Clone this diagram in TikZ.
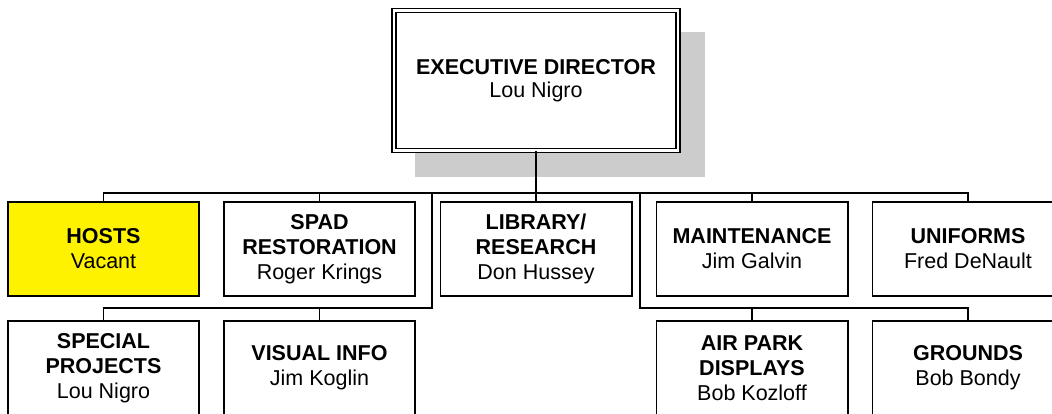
\documentclass[tikz,border=0pt]{standalone}
\usepackage{fontspec}
\setmainfont{Liberation Sans}
\usepackage{tikz}
\newcommand{\post}[2]{\textbf{#1}\\#2}

\tikzset{
  unit/.style={draw, line width=1.7pt, fill=white, minimum width=191.3pt,
    minimum height=94.3pt, align=center, inner sep=0pt,
    font=\fontsize{21.5}{25}\selectfont},
  chief/.style={draw, double, double distance=2.5pt, line width=1.3pt,
    fill=white, minimum width=284pt, minimum height=140pt, align=center,
    inner sep=0pt, font=\fontsize{21.5}{23.5}\selectfont},
  link/.style={line width=1.8pt}
}

\begin{document}
\begin{tikzpicture}[x=1pt, y=-1pt]
  % \draw[help lines] (0,0) grid (1052,413);
  \useasboundingbox (0,0) rectangle (1052,413);

  \fill [black!20] (415,32) rectangle (705,177);
  \node [chief] (exec) at (536,80.5) {\post{EXECUTIVE DIRECTOR}{Lou Nigro}};

  \node [unit, fill=yellow] (hosts) at (103.5,249) {\post{HOSTS}{Vacant}};
  \node [unit] (spad)     at (319.5,249) {\textbf{SPAD}\\\post{RESTORATION}{Roger Krings}};
  \node [unit] (library)  at (536,249)   {\textbf{LIBRARY/}\\\post{RESEARCH}{Don Hussey}};
  \node [unit] (maint)    at (752,249)   {\post{MAINTENANCE}{Jim Galvin}};
  \node [unit] (uniforms) at (968,249)   {\post{UNIFORMS}{Fred DeNault}};

  \node [unit] (special)  at (103.5,368) {\textbf{SPECIAL}\\\post{PROJECTS}{Lou Nigro}};
  \node [unit] (visual)   at (319.5,368) {\post{VISUAL INFO}{Jim Koglin}};
  \node [unit] (airpark)  at (752,368)   {\textbf{AIR PARK}\\\post{DISPLAYS}{Bob Kozloff}};
  \node [unit] (grounds)  at (968,368)   {\post{GROUNDS}{Bob Bondy}};

  \coordinate (busL) at (432,193);
  \coordinate (busR) at (640,193);

  \draw [link] (exec.south) -- (library.north);
  \draw [link] (hosts.north) -- ++(0,-8) -| (uniforms.north);
  \draw [link] (spad.north) -- ++(0,-8);
  \draw [link] (maint.north) -- ++(0,-8);

  \draw [link] (busL) -- ++(0,115) -| (special.north);
  \draw [link] (visual.north) -- ++(0,-12);
  \draw [link] (busR) -- ++(0,115) -| (grounds.north);
  \draw [link] (airpark.north) -- ++(0,-12);

\end{tikzpicture}
\end{document}
